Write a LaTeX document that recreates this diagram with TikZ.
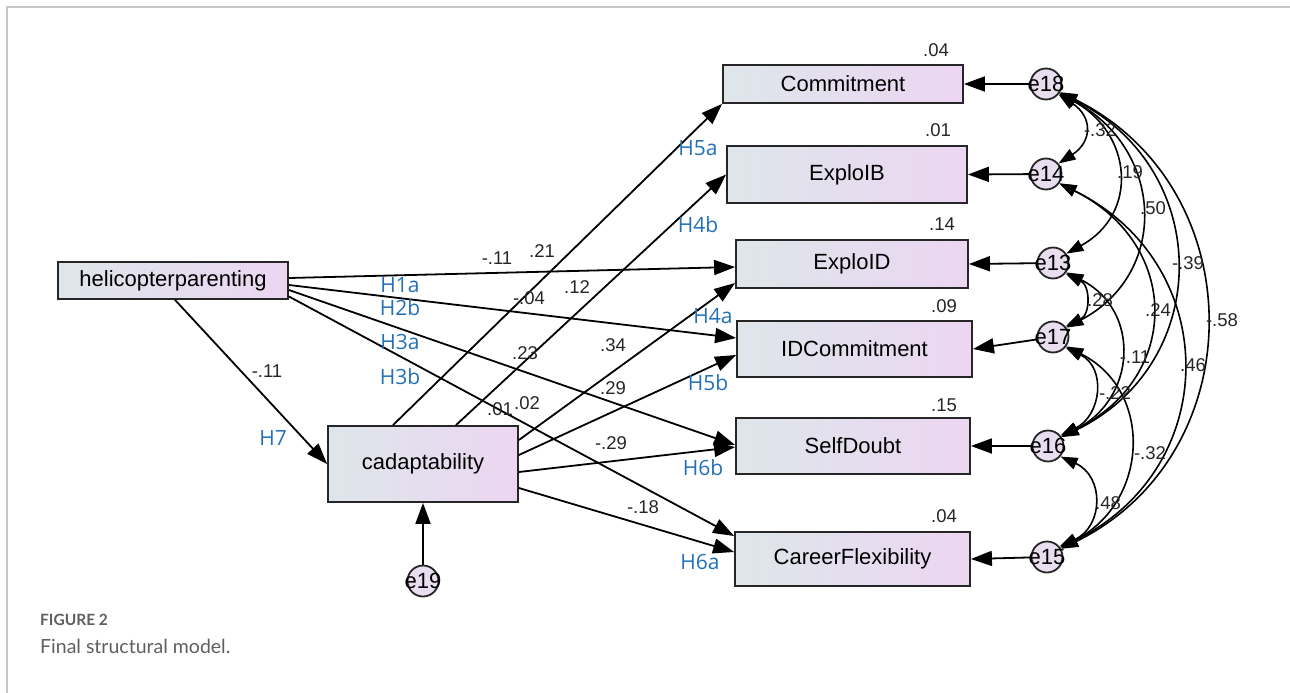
\documentclass[tikz,border=0pt]{standalone}
\usepackage{fontspec}
\setmainfont{Liberation Sans}
\newfontfamily\hfont{Open Sans}
\newfontfamily\capfont{Lato}
\usetikzlibrary{arrows.meta,calc}
\definecolor{boxL}{RGB}{222,230,234}
\definecolor{boxR}{RGB}{236,214,242}
\definecolor{errfill}{RGB}{232,222,240}
\definecolor{hblue}{RGB}{35,112,185}
\definecolor{capgray}{RGB}{95,95,95}
\definecolor{framegray}{RGB}{200,200,200}
\begin{document}
\begin{tikzpicture}[x=1pt,y=-1pt,
  var/.style={draw=black!85,line width=1.8pt,left color=boxL,right color=boxR,inner sep=0pt,font=\fontsize{22}{24}\selectfont},
  err/.style={circle,draw=black!85,line width=1.8pt,fill=errfill,minimum size=31pt,inner sep=0pt},
  etext/.style={font=\fontsize{22}{23}\selectfont,inner sep=0pt},
  reg/.style={line width=1.8pt,-{Triangle[length=21pt,width=15pt]}},
  cov/.style={line width=1.6pt,{Triangle[length=17pt,width=12pt]}-{Triangle[length=17pt,width=12pt]}},
  num/.style={font=\fontsize{18.5}{19}\selectfont,text=black!85,inner sep=0pt},
  hl/.style={font=\hfont\fontsize{21}{22}\selectfont,text=hblue,inner sep=0pt}
]
\useasboundingbox (0,0) rectangle (1290,693);
\draw[framegray,line width=1.5pt] (7,693) -- (7,7) -- (1290,7);

% observed variables
\node[var,minimum width=230pt,minimum height=37pt] (hp) at (173,280.5) {helicopterparenting};
\node[var,minimum width=190pt,minimum height=76pt] (ca) at (423,464) {cadaptability};
\node[var,minimum width=240pt,minimum height=38pt] (com) at (843,84) {Commitment};
\node[var,minimum width=240pt,minimum height=57pt] (eib) at (847,174.5) {ExploIB};
\node[var,minimum width=232pt,minimum height=48pt] (eid) at (852,264) {ExploID};
\node[var,minimum width=235pt,minimum height=56pt] (idc) at (854.5,349) {IDCommitment};
\node[var,minimum width=234pt,minimum height=56pt] (sd) at (853,446) {SelfDoubt};
\node[var,minimum width=235pt,minimum height=54pt] (cf) at (852.5,559) {CareerFlexibility};

% error terms
\node[err] (e18) at (1046,84) {};
\node[err] (e14) at (1046,174) {};
\node[err] (e13) at (1053,263) {};
\node[err] (e17) at (1053,337) {};
\node[err] (e16) at (1048,446) {};
\node[err] (e15) at (1047,557) {};
\node[err] (e19) at (423,581) {};

% R squared
\node[num] at (936,50) {.04};
\node[num] at (938,130) {.01};
\node[num] at (942,224) {.14};
\node[num] at (944,306) {.09};
\node[num] at (944,405) {.15};
\node[num] at (944,516) {.04};

% regression paths from helicopterparenting
\draw[reg] ([yshift=2.5pt]hp.east) -- ([yshift=-3pt]eid.west);
\draw[reg] ([yshift=-4.5pt]hp.east) -- ([yshift=11pt]idc.west);
\draw[reg] ([yshift=-9.5pt]hp.east) -- ([yshift=1pt]sd.west);
\draw[reg] ([yshift=-16pt]hp.east) -- ([yshift=23pt]cf.west);
\draw[reg] ([xshift=2pt]hp.south) -- (ca.west);

% regression paths from cadaptability
\draw[reg] ([xshift=-30pt]ca.north) -- (com.south west);
\draw[reg] ([xshift=33pt]ca.north) -- (eib.west);
\draw[reg] ([yshift=24pt]ca.east) -- ([yshift=-19pt]eid.west);
\draw[reg] ([yshift=9pt]ca.east) -- ([yshift=-6pt]idc.west);
\draw[reg] ([yshift=-8pt]ca.east) -- ([yshift=-1pt]sd.west);
\draw[reg] ([yshift=-24pt]ca.east) -- ([yshift=7pt]cf.west);
\draw[reg] (e19) -- (ca.south);

% error to variable
\draw[reg] (e18) -- (com.east);
\draw[reg] (e14) -- (eib.east);
\draw[reg] (e13) -- (eid.east);
\draw[reg] (e17) -- (idc.east);
\draw[reg] (e16) -- (sd.east);
\draw[reg] (e15) -- (cf.east);

% covariances
\draw[cov] (e18.-40) .. controls +(34,22) and +(34,-22) .. (e14.40);
\draw[cov] (e18.-35) .. controls +(73,40) and +(73,-40) .. (e13.35);
\draw[cov] (e18.-35) .. controls +(104,55) and +(104,-55) .. (e17.35);
\draw[cov] (e18.-33) .. controls +(153,75) and +(153,-75) .. (e16.33);
\draw[cov] (e18.-30) .. controls +(193,95) and +(193,-95) .. (e15.30);
\draw[cov] (e13.-40) .. controls +(25,12) and +(25,-12) .. (e17.40);
\draw[cov] (e14.-35) .. controls +(121,60) and +(121,-60) .. (e16.35);
\draw[cov] (e14.-35) .. controls +(163,80) and +(163,-80) .. (e15.35);
\draw[cov] (e13.-35) .. controls +(75,38) and +(75,-38) .. (e16.35);
\draw[cov] (e17.-40) .. controls +(41,20) and +(41,-20) .. (e16.40);
\draw[cov] (e17.-35) .. controls +(88,45) and +(88,-45) .. (e15.35);
\draw[cov] (e16.-40) .. controls +(44,20) and +(44,-20) .. (e15.40);

% error labels
\node[etext] at (e18) {e18};
\node[etext] at (e14) {e14};
\node[etext] at (e13) {e13};
\node[etext] at (e17) {e17};
\node[etext] at (e16) {e16};
\node[etext] at (e15) {e15};
\node[etext] at (e19) {e19};

% covariance labels
\node[num] at (1100,130) {-.32};
\node[num] at (1130,172) {.19};
\node[num] at (1153,208) {.50};
\node[num] at (1188,263) {-.39};
\node[num] at (1222,320) {-.58};
\node[num] at (1100,300) {.28};
\node[num] at (1158,310) {.24};
\node[num] at (1135,357) {-.11};
\node[num] at (1193,365) {.46};
\node[num] at (1115,393) {-.22};
\node[num] at (1150,453) {-.32};
\node[num] at (1108,503) {.48};

% path coefficients
\node[num] at (497,258) {-.11};
\node[num] at (542,251) {.21};
\node[num] at (577,287) {.12};
\node[num] at (529,298) {-.04};
\node[num] at (525,353) {.23};
\node[num] at (613,345) {.34};
\node[num] at (613,388) {.29};
\node[num] at (500,409) {.01};
\node[num] at (527,403) {.02};
\node[num] at (611,443) {-.29};
\node[num] at (643,507) {-.18};
\node[num] at (267,371) {-.11};

% hypothesis labels
\node[hl] at (698,148) {H5a};
\node[hl] at (698,225) {H4b};
\node[hl] at (400,285) {H1a};
\node[hl] at (400,308) {H2b};
\node[hl] at (400,342) {H3a};
\node[hl] at (400,377) {H3b};
\node[hl] at (713,316) {H4a};
\node[hl] at (708,383) {H5b};
\node[hl] at (703,468) {H6b};
\node[hl] at (700,562) {H6a};
\node[hl] at (273,438) {H7};

% caption
\node[anchor=west,font=\capfont\bfseries\fontsize{15.5}{16}\selectfont,text=capgray,inner sep=0pt] (cap1) at (40,620) {FIGURE 2};
\node[anchor=west,font=\capfont\fontsize{19.5}{20}\selectfont,text=capgray,inner sep=0pt] (cap2) at (40,646) {Final structural model.};
\end{tikzpicture}
\end{document}
